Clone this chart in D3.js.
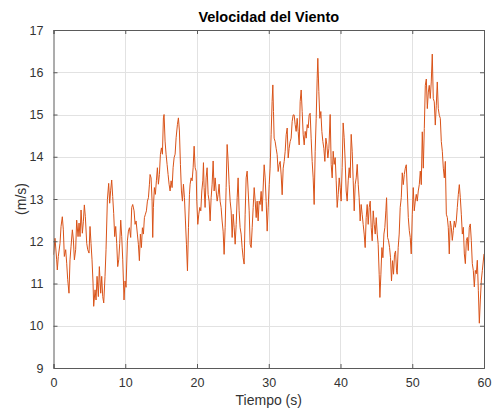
<!DOCTYPE html>
<html><head><meta charset="utf-8">
<script src="https://cdn.jsdelivr.net/npm/d3@7"></script>
<style>
html,body{margin:0;padding:0;background:#fff;}
svg text{font-family:"Liberation Sans",Arial,Helvetica,sans-serif;}
</style>
</head><body>
<svg id="chart" width="497" height="415"></svg>
<script>
const chartTitle = "Velocidad del Viento";
const xLabel = "Tiempo (s)";
const yLabel = "(m/s)";
const xTicks = [0,10,20,30,40,50,60];
const yTicks = [9,10,11,12,13,14,15,16,17];

const tiempo = [
0.00,0.21,0.44,0.53,0.67,0.91,1.05,1.23,1.37,1.51,1.70,1.84,1.98,2.16,2.30,2.44,2.63,2.77,2.91,3.09,
3.23,3.42,3.56,3.70,3.84,4.02,4.16,4.30,4.44,4.63,4.77,4.95,5.09,5.23,5.37,5.51,5.60,5.79,5.93,6.07,
6.25,6.39,6.58,6.72,6.86,7.00,7.18,7.32,7.51,7.69,7.83,7.97,8.11,8.25,8.39,8.53,8.67,8.81,8.95,9.09,
9.23,9.37,9.51,9.65,9.83,9.97,10.11,10.30,10.44,10.58,10.76,10.90,11.04,11.23,11.37,11.51,11.69,11.83,11.97,12.11,
12.25,12.39,12.53,12.67,12.81,12.95,13.09,13.23,13.37,13.46,13.60,13.74,13.83,13.92,14.06,14.20,14.34,14.48,14.62,14.76,
14.90,15.04,15.18,15.32,15.41,15.55,15.69,15.83,15.97,16.11,16.25,16.39,16.53,16.67,16.81,16.95,17.09,17.27,17.41,17.55,
17.69,17.83,17.97,18.11,18.25,18.39,18.53,18.67,18.81,18.95,19.04,19.18,19.32,19.46,19.60,19.74,19.88,19.97,20.11,20.25,
20.39,20.53,20.67,20.81,20.90,20.99,21.13,21.27,21.41,21.55,21.69,21.83,21.97,22.11,22.25,22.39,22.53,22.67,22.81,22.95,
23.08,23.22,23.36,23.50,23.64,23.78,23.92,24.06,24.20,24.34,24.48,24.62,24.76,24.90,25.04,25.18,25.32,25.46,25.60,25.73,
25.87,26.01,26.15,26.29,26.43,26.57,26.71,26.85,26.99,27.13,27.27,27.41,27.55,27.69,27.83,27.97,28.11,28.25,28.38,28.52,
28.66,28.80,28.94,29.08,29.22,29.36,29.50,29.64,29.78,29.92,30.06,30.19,30.33,30.47,30.57,30.66,30.75,30.89,31.03,31.17,
31.31,31.45,31.59,31.73,31.87,32.01,32.15,32.29,32.43,32.57,32.71,32.84,32.98,33.12,33.26,33.40,33.54,33.68,33.82,33.96,
34.10,34.24,34.38,34.52,34.66,34.80,34.94,35.08,35.22,35.36,35.49,35.63,35.77,35.91,36.05,36.19,36.33,36.47,36.61,36.75,
36.84,36.98,37.12,37.26,37.40,37.54,37.68,37.82,37.96,38.10,38.24,38.38,38.56,38.70,38.84,38.98,39.12,39.26,39.40,39.54,
39.68,39.82,39.95,40.09,40.23,40.37,40.51,40.65,40.79,40.93,41.07,41.21,41.35,41.49,41.63,41.77,41.91,42.05,42.19,42.33,
42.47,42.60,42.74,42.88,43.02,43.16,43.30,43.44,43.58,43.72,43.86,44.00,44.14,44.28,44.42,44.56,44.70,44.84,44.98,45.12,
45.25,45.39,45.49,45.63,45.77,45.91,46.05,46.18,46.32,46.42,46.56,46.70,46.84,46.97,47.11,47.25,47.39,47.53,47.67,47.81,
47.90,48.04,48.18,48.32,48.47,48.61,48.75,48.89,49.03,49.17,49.31,49.45,49.59,49.72,49.86,50.00,50.14,50.28,50.42,50.56,
50.70,50.84,50.98,51.12,51.26,51.40,51.54,51.68,51.82,51.96,52.10,52.24,52.37,52.51,52.65,52.79,52.93,53.07,53.21,53.35,
53.49,53.63,53.77,53.91,54.05,54.19,54.33,54.47,54.61,54.75,54.89,55.02,55.16,55.30,55.44,55.58,55.72,55.86,56.00,56.14,
56.28,56.42,56.56,56.70,56.84,56.98,57.12,57.26,57.40,57.54,57.67,57.81,57.95,58.09,58.23,58.37,58.51,58.65,58.79,58.93,
59.07,59.21,59.35,59.49,59.63,59.77,60.00
];

const velocidad = [
11.68,12.07,11.56,11.32,11.64,11.95,12.35,12.58,12.27,11.64,11.80,11.48,11.09,10.77,11.56,11.87,12.27,12.03,11.56,11.80,
12.50,12.11,12.43,12.11,12.74,12.19,12.46,12.86,12.58,11.95,11.80,11.72,12.35,11.95,11.56,11.01,10.46,10.85,10.61,11.17,
10.69,11.40,10.77,11.17,10.69,10.54,11.17,11.80,12.98,13.37,12.90,13.21,13.45,13.06,12.66,12.11,12.35,11.95,11.40,11.56,
11.95,12.50,12.11,11.56,10.61,11.06,10.91,12.01,12.24,12.32,12.09,12.80,12.87,12.72,12.40,12.48,12.17,11.93,11.54,12.17,
11.85,12.32,12.17,12.56,12.64,12.72,12.95,13.03,13.35,13.58,13.50,12.95,12.09,12.80,13.27,13.11,13.43,13.74,13.35,13.58,
14.06,14.21,14.06,14.92,15.00,14.37,14.06,13.82,13.58,13.35,13.19,13.43,13.27,13.74,13.98,14.06,14.45,14.76,14.92,14.61,
13.82,13.19,12.95,13.35,13.03,12.48,11.93,11.30,12.32,13.11,13.35,13.50,13.43,13.74,14.25,13.74,13.66,12.95,12.40,12.64,
12.80,12.72,13.19,13.43,13.86,13.27,12.80,13.50,13.74,13.11,12.95,12.48,13.03,13.35,13.90,13.19,13.50,13.19,12.95,13.11,
13.35,12.95,12.80,12.48,12.24,11.69,12.32,13.27,14.29,13.90,13.35,12.95,12.72,12.09,12.64,12.32,11.93,12.40,13.03,13.50,
12.72,12.32,12.17,11.85,11.61,11.46,12.64,13.50,13.66,13.19,12.72,11.93,11.85,12.32,12.80,13.27,12.95,12.56,12.95,12.48,
12.95,12.87,13.18,12.71,13.26,13.81,13.50,12.94,12.24,12.79,13.34,13.73,14.52,15.31,15.70,15.07,14.44,14.36,14.20,14.05,
13.65,13.81,13.89,13.57,13.10,13.73,13.89,14.13,14.52,14.68,13.97,14.20,14.36,14.44,14.83,14.99,14.99,14.76,14.60,14.91,
14.60,14.28,15.31,15.58,15.07,14.52,14.28,14.60,14.44,14.76,14.68,14.99,15.03,14.44,13.89,13.50,12.87,14.13,14.91,15.86,
16.33,15.54,14.91,15.07,14.60,14.36,14.20,13.89,14.44,14.28,13.97,14.20,15.00,13.82,13.50,14.13,13.82,13.98,13.43,12.80,
13.11,13.50,13.27,12.95,13.74,14.80,14.45,13.90,13.19,12.95,13.43,13.74,13.50,14.53,14.13,13.43,12.72,13.35,13.50,13.82,
13.35,13.03,12.48,12.87,12.64,12.40,12.17,11.85,12.56,12.87,12.40,12.80,12.95,12.32,12.01,12.72,12.40,12.17,12.56,12.17,
11.93,11.22,10.67,11.22,11.85,11.61,12.17,12.32,12.72,13.03,12.09,12.01,11.85,11.61,11.06,11.54,11.22,11.69,11.77,11.30,
11.22,11.85,12.17,12.80,13.03,13.62,13.34,13.58,13.73,13.81,13.19,12.56,12.25,12.09,11.70,12.64,13.27,12.72,12.95,13.11,
12.95,13.19,13.34,13.66,13.34,14.59,13.73,14.67,15.69,15.84,15.14,15.53,15.69,15.38,15.77,16.43,15.38,15.30,14.75,15.22,
15.77,15.14,14.98,14.91,14.36,14.13,13.73,13.50,13.89,12.64,12.56,12.33,11.70,12.48,12.33,12.02,12.25,12.48,12.33,12.48,
12.80,13.11,13.34,13.03,12.64,12.17,12.33,11.70,11.47,12.02,12.09,11.78,12.33,12.41,12.02,11.47,11.31,10.92,11.31,11.23,
11.55,10.84,10.06,10.61,11.08,11.31,11.70
];

const W = 497, H = 415;
const margin = {left: 53.5, right: W - 484, top: 30, bottom: H - 368};
const svg = d3.select("#chart");
const x = d3.scaleLinear().domain([0, 60]).range([margin.left, W - margin.right]);
const y = d3.scaleLinear().domain([9, 17]).range([H - margin.bottom, margin.top]);
const axisColor = "#5a5a5a";
const textColor = "#333333";

// grid
const grid = svg.append("g");
grid.selectAll("line.gx").data(xTicks.slice(1, -1)).join("line")
  .attr("x1", d => Math.round(x(d)) + 0.5).attr("x2", d => Math.round(x(d)) + 0.5)
  .attr("y1", y(17)).attr("y2", y(9))
  .attr("stroke", "#e2e2e2").attr("stroke-width", 1);
grid.selectAll("line.gy").data(yTicks.slice(1, -1)).join("line")
  .attr("y1", d => Math.round(y(d)) + 0.5).attr("y2", d => Math.round(y(d)) + 0.5)
  .attr("x1", x(0)).attr("x2", x(60))
  .attr("stroke", "#e2e2e2").attr("stroke-width", 1);

// data line
svg.append("clipPath").attr("id", "clip").append("rect")
  .attr("x", x(0)).attr("y", y(17)).attr("width", x(60) - x(0)).attr("height", y(9) - y(17));
const pts = tiempo.map((t, i) => [t, velocidad[i]]);
svg.append("path").datum(pts)
  .attr("clip-path", "url(#clip)")
  .attr("fill", "none").attr("stroke", "#D95319").attr("stroke-width", 1)
  .attr("stroke-linejoin", "round")
  .attr("d", d3.line().x(d => x(d[0])).y(d => y(d[1])));

// axes (box with inward ticks)
const tl = 4;
const axB = svg.append("g").attr("transform", `translate(0,${y(9)})`)
  .call(d3.axisBottom(x).tickValues(xTicks).tickSize(-tl).tickPadding(10).tickFormat(d3.format("d")));
const axT = svg.append("g").attr("transform", `translate(0,${y(17)})`)
  .call(d3.axisTop(x).tickValues(xTicks).tickSize(-tl).tickFormat(""));
const axL = svg.append("g").attr("transform", `translate(${x(0)},0)`)
  .call(d3.axisLeft(y).tickValues(yTicks).tickSize(-tl).tickPadding(10).tickFormat(d3.format("d")));
const axR = svg.append("g").attr("transform", `translate(${x(60)},0)`)
  .call(d3.axisRight(y).tickValues(yTicks).tickSize(-tl).tickFormat(""));
[axB, axT, axL, axR].forEach(g => {
  g.select(".domain").attr("stroke", axisColor).attr("stroke-width", 1);
  g.selectAll(".tick line").attr("stroke", axisColor);
  g.selectAll(".tick text").attr("fill", textColor).style("font-size", "12.5px")
    .style("font-family", "'Liberation Sans', Arial, sans-serif");
});
axB.selectAll(".tick text").attr("dy", "0.71em");

// labels
svg.append("text").attr("x", (x(0) + x(60)) / 2).attr("y", 22)
  .attr("text-anchor", "middle").attr("font-weight", "bold").attr("font-size", "14.5px")
  .attr("fill", "#000").text(chartTitle);
svg.append("text").attr("x", (x(0) + x(60)) / 2).attr("y", 405)
  .attr("text-anchor", "middle").attr("font-size", "14px")
  .attr("fill", textColor).text(xLabel);
svg.append("text").attr("transform", `translate(26,${(y(9) + y(17)) / 2}) rotate(-90)`)
  .attr("text-anchor", "middle").attr("font-size", "14px")
  .attr("fill", textColor).text(yLabel);
</script>
</body></html>
